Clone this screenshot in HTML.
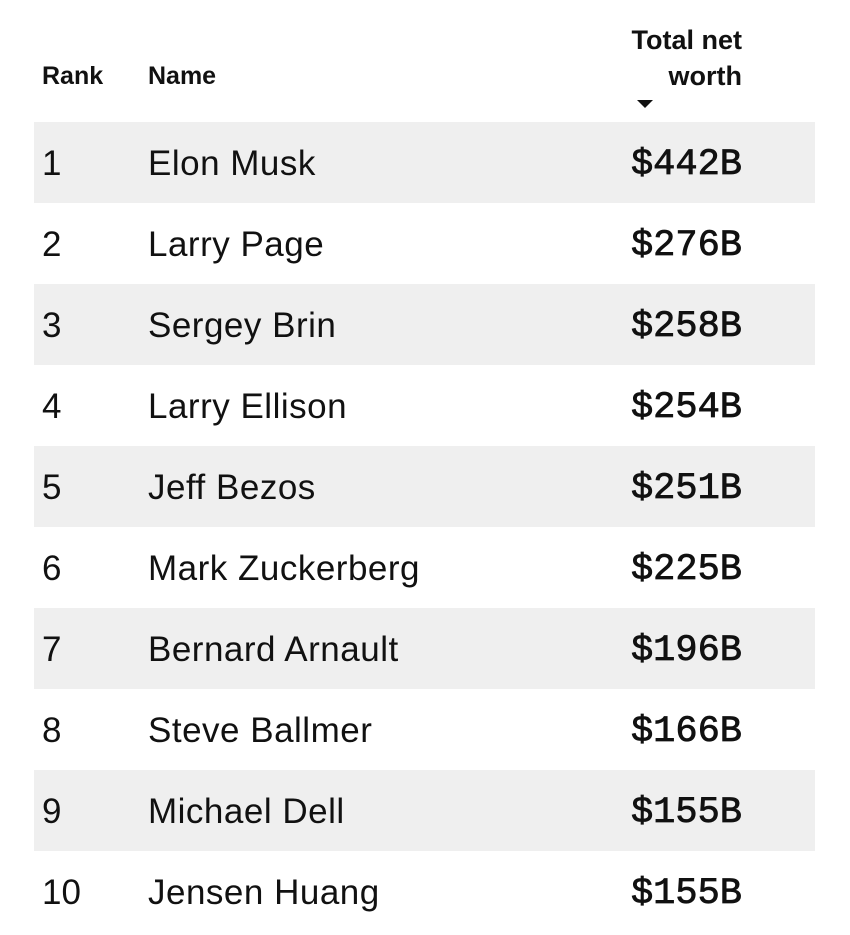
<!DOCTYPE html>
<html><head><style>
body{margin:0;width:850px;height:931px;background:#fff;position:relative;overflow:hidden;font-family:"Liberation Sans",sans-serif;color:#111}
.h{position:absolute;font-weight:bold;font-size:27px;line-height:36px}
.row{position:absolute;left:34px;width:781px;height:81px}
.row.s{background:#efefef}
.r{position:absolute;left:8px;top:1px;line-height:81px;font-size:35px}
.n{position:absolute;left:114px;top:1px;line-height:81px;font-size:35px;letter-spacing:0.5px}
.v{position:absolute;right:73px;top:3px;line-height:81px;font-size:37px;font-family:"Liberation Mono",monospace;-webkit-text-stroke:0.8px #111}
.tri{position:absolute;left:637px;top:100px;width:0;height:0;border-left:8px solid transparent;border-right:8px solid transparent;border-top:8px solid #111}
</style></head><body>
<div class="h" style="left:42px;top:58px;font-size:25px">Rank</div>
<div class="h" style="left:148px;top:58px;font-size:25px">Name</div>
<div class="h" style="right:108px;top:22px;text-align:right">Total net<br>worth</div>
<div class="tri"></div>
<div class="row s" style="top:122px"><span class="r">1</span><span class="n">Elon Musk</span><span class="v">$442B</span></div>
<div class="row" style="top:203px"><span class="r">2</span><span class="n">Larry Page</span><span class="v">$276B</span></div>
<div class="row s" style="top:284px"><span class="r">3</span><span class="n">Sergey Brin</span><span class="v">$258B</span></div>
<div class="row" style="top:365px"><span class="r">4</span><span class="n">Larry Ellison</span><span class="v">$254B</span></div>
<div class="row s" style="top:446px"><span class="r">5</span><span class="n">Jeff Bezos</span><span class="v">$251B</span></div>
<div class="row" style="top:527px"><span class="r">6</span><span class="n">Mark Zuckerberg</span><span class="v">$225B</span></div>
<div class="row s" style="top:608px"><span class="r">7</span><span class="n">Bernard Arnault</span><span class="v">$196B</span></div>
<div class="row" style="top:689px"><span class="r">8</span><span class="n">Steve Ballmer</span><span class="v">$166B</span></div>
<div class="row s" style="top:770px"><span class="r">9</span><span class="n">Michael Dell</span><span class="v">$155B</span></div>
<div class="row" style="top:851px"><span class="r">10</span><span class="n">Jensen Huang</span><span class="v">$155B</span></div>
</body></html>
